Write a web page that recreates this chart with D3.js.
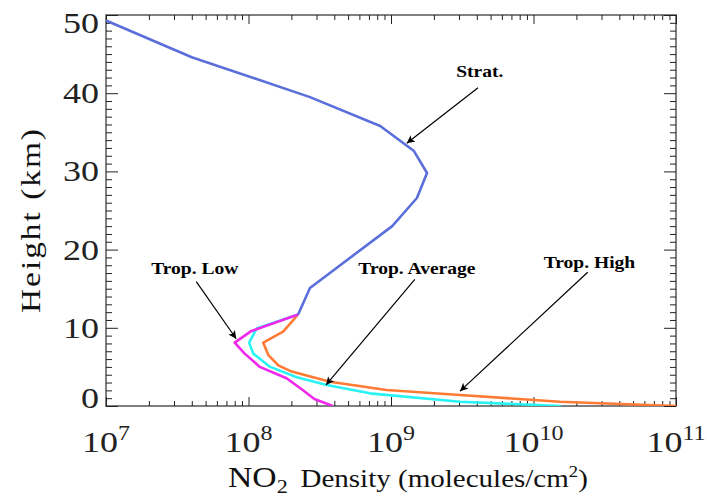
<!DOCTYPE html>
<html>
<head>
<meta charset="utf-8">
<script src="https://cdn.jsdelivr.net/npm/d3@7"></script>
<style>
  body { margin: 0; background: #fff; }
  svg { display: block; }
</style>
</head>
<body>
<svg id="chart" width="707" height="497"></svg>
<script>
// NO2 vertical profiles: height (km) vs number density
const stratHeight  = [49.3, 44.6, 39.5, 35.8, 32.6, 29.8, 26.6, 23.0, 15.1, 11.7];
const stratDensity = [1.0e7, 4.0e7, 2.7e8, 8.4e8, 1.45e9, 1.79e9, 1.52e9, 1.02e9, 2.7e8, 2.23e8];

const lowHeight  = [11.7, 9.6, 8.1, 6.7, 5.0, 3.55, 2.05, 0.9, 0];
const lowDensity = [2.23e8, 1.05e8, 8.0e7, 9.4e7, 1.2e8, 1.85e8, 2.4e8, 2.9e8, 3.9e8];

const avgHeight  = [11.7, 9.9, 8.1, 6.7, 5.0, 3.67, 2.69, 1.62, 0.55, 0];
const avgDensity = [2.23e8, 1.14e8, 1.01e8, 1.08e8, 1.42e8, 2.18e8, 3.54e8, 7.1e8, 3.05e9, 1.56e10];

const highHeight  = [11.7, 9.5, 8.1, 6.5, 5.2, 4.4, 3.1, 2.05, 1.41, 0.55, 0];
const highDensity = [2.23e8, 1.75e8, 1.27e8, 1.38e8, 1.62e8, 2.01e8, 3.73e8, 9.3e8, 3.05e9, 1.53e10, 1.0e11];

const xTickExponents = [7, 8, 9, 10, 11];
const yTickValues = [0, 10, 20, 30, 40, 50];

// annotations: label, label anchor (density, km), arrow start, arrow tip
const annotationText  = ["Strat.", "Trop. Low", "Trop. Average", "Trop. High"];
const annotationLabel = [[4.2e9, 42.1], [4.2e7, 16.9], [1.52e9, 16.9], [2.47e10, 17.6]];
const arrowFrom       = [[4.08e9, 40.7], [4.3e7, 15.9], [1.47e9, 16.2], [2.4e10, 17.1]];
const arrowTo         = [[1.29e9, 33.6], [8.2e7, 8.6], [3.5e8, 2.7], [3.05e9, 1.9]];

const SERIF = "'Liberation Serif', 'Times New Roman', serif";
const frame = { left: 106, right: 676, top: 15, bottom: 406 };

const svg = d3.select("#chart");
const x = d3.scaleLog().domain([1e7, 1e11]).range([frame.left, frame.right]);
const y = d3.scaleLinear().domain([0, 50]).range([frame.bottom, frame.top]);

const defs = svg.append("defs");
defs.append("clipPath").attr("id", "plot-area")
  .append("rect")
  .attr("x", frame.left).attr("y", frame.top)
  .attr("width", frame.right - frame.left)
  .attr("height", frame.bottom - frame.top);
defs.append("marker")
  .attr("id", "arrowhead")
  .attr("viewBox", "0 0 10 10")
  .attr("refX", 10).attr("refY", 5)
  .attr("markerUnits", "userSpaceOnUse")
  .attr("markerWidth", 10).attr("markerHeight", 8)
  .attr("orient", "auto")
  .append("path").attr("d", "M0,0 L10,5 L0,10 L2.5,5 Z").attr("fill", "#000");

// stretch a text element horizontally around its own anchor point
function stretch(sel, sx) {
  sel.each(function () {
    const t = d3.select(this);
    const tx = +t.attr("x") || 0, ty = +t.attr("y") || 0;
    t.attr("transform", `translate(${tx},${ty}) scale(${sx},1) translate(${-tx},${-ty})`);
  });
}

// ---- frame ----
svg.append("rect")
  .attr("x", frame.left).attr("y", frame.top)
  .attr("width", frame.right - frame.left)
  .attr("height", frame.bottom - frame.top)
  .attr("fill", "none").attr("stroke", "#606060").attr("stroke-width", 1.6);

// ---- inward ticks on all four sides ----
function ticks(axis, transform) {
  svg.append("g").attr("transform", transform).call(axis)
    .call(g => {
      g.select(".domain").remove();
      g.selectAll("text").remove();
      g.selectAll("line").attr("stroke", "#222").attr("stroke-width", 1);
    });
}
const minorY = d3.range(0, 51).filter(v => v % 10 !== 0);
const minorX = [];
xTickExponents.slice(0, -1).forEach(e => { for (let m = 2; m <= 9; m++) minorX.push(m * Math.pow(10, e)); });
const majorX = xTickExponents.map(e => Math.pow(10, e));

ticks(d3.axisLeft(y).tickValues(minorY).tickSize(-6), `translate(${frame.left},0)`);
ticks(d3.axisLeft(y).tickValues(yTickValues).tickSize(-12), `translate(${frame.left},0)`);
ticks(d3.axisRight(y).tickValues(minorY).tickSize(-6), `translate(${frame.right},0)`);
ticks(d3.axisRight(y).tickValues(yTickValues).tickSize(-12), `translate(${frame.right},0)`);
ticks(d3.axisBottom(x).tickValues(minorX).tickSize(-5), `translate(0,${frame.bottom})`);
ticks(d3.axisBottom(x).tickValues(majorX).tickSize(-9), `translate(0,${frame.bottom})`);
ticks(d3.axisTop(x).tickValues(minorX).tickSize(-5), `translate(0,${frame.top})`);
ticks(d3.axisTop(x).tickValues(majorX).tickSize(-9), `translate(0,${frame.top})`);

// ---- tick labels ----
const yLabels = svg.append("g").selectAll("text").data(yTickValues).join("text")
  .attr("x", 99)
  .attr("y", d => y(d) + 10 + (d === 0 ? -8 : d === 50 ? 8 : 0))
  .attr("text-anchor", "end")
  .attr("font-family", SERIF).attr("font-size", 30).attr("fill", "#222")
  .text(d => d);
stretch(yLabels, 1.2);

const xLabels = svg.append("g").selectAll("text").data(xTickExponents).join("text")
  .attr("x", e => x(Math.pow(10, e)))
  .attr("y", 452)
  .attr("text-anchor", "middle")
  .attr("font-family", SERIF).attr("fill", "#222");
xLabels.append("tspan").attr("font-size", 30).text("10");
xLabels.append("tspan").attr("font-size", 20).attr("dy", -12).text(e => e);
stretch(xLabels, 1.2);

// ---- axis titles ----
const yTitle = svg.append("text")
  .attr("text-anchor", "middle")
  .attr("font-family", SERIF).attr("font-size", 28).attr("fill", "#111")
  .attr("letter-spacing", 1.7)
  .text("Height (km)");
const yw = yTitle.node().getBBox().width;
yTitle.attr("transform", `translate(40,220) rotate(-90) scale(${186 / yw},1)`);

const xTitle = svg.append("text")
  .attr("x", 228).attr("y", 487)
  .attr("font-family", SERIF).attr("fill", "#111");
xTitle.append("tspan").attr("font-size", 29).text("NO");
xTitle.append("tspan").attr("font-size", 19).attr("dy", 6).text("2");
xTitle.append("tspan").attr("font-size", 25).attr("dy", -6).attr("dx", 11).text("Density (molecules/cm");
xTitle.append("tspan").attr("font-size", 16).attr("dy", -10).text("2");
xTitle.append("tspan").attr("font-size", 25).attr("dy", 10).text(")");
const xw = xTitle.node().getBBox().width;
stretch(xTitle, 360 / xw);

// ---- profiles ----
const line = d3.line().x(d => x(d[0])).y(d => y(d[1]));
const curves = [
  { density: highDensity, height: highHeight, color: "#ff7a33" },
  { density: avgDensity, height: avgHeight, color: "#29f2f2" },
  { density: lowDensity, height: lowHeight, color: "#f028ec" },
  { density: stratDensity, height: stratHeight, color: "#5b6fdb" }
];
const plot = svg.append("g").attr("clip-path", "url(#plot-area)");
curves.forEach(c => {
  plot.append("path")
    .datum(c.density.map((d, i) => [d, c.height[i]]))
    .attr("d", line)
    .attr("fill", "none")
    .attr("stroke", c.color)
    .attr("stroke-width", 2.6)
    .attr("stroke-linejoin", "round");
});

// ---- annotations ----
const ann = svg.append("g");
annotationText.forEach((t, i) => {
  ann.append("line")
    .attr("x1", x(arrowFrom[i][0])).attr("y1", y(arrowFrom[i][1]))
    .attr("x2", x(arrowTo[i][0])).attr("y2", y(arrowTo[i][1]))
    .attr("stroke", "#000").attr("stroke-width", 1.2)
    .attr("marker-end", "url(#arrowhead)");
  const label = ann.append("text")
    .attr("x", x(annotationLabel[i][0])).attr("y", y(annotationLabel[i][1]))
    .attr("text-anchor", "middle")
    .attr("font-family", SERIF).attr("font-weight", "bold")
    .attr("font-size", 17).attr("fill", "#000")
    .text(t);
  stretch(label, 1.15);
});
</script>
</body>
</html>
